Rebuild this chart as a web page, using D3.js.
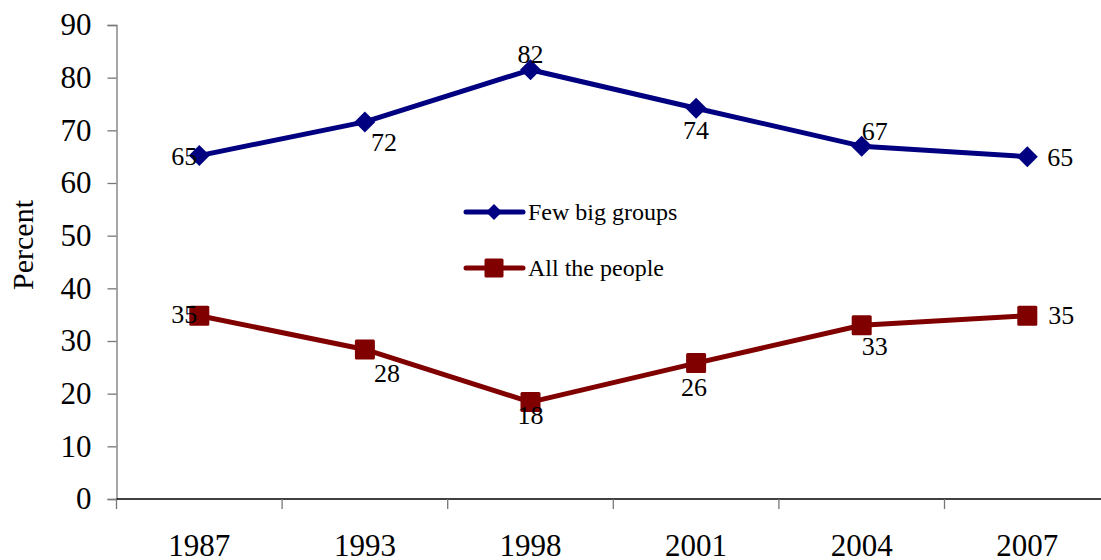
<!DOCTYPE html>
<html>
<head>
<meta charset="utf-8">
<script src="https://cdn.jsdelivr.net/npm/d3@7"></script>
<style>
  html, body { margin: 0; padding: 0; background: #fff; }
  svg { display: block; font-family: "Liberation Serif", "Times New Roman", serif; }
</style>
</head>
<body>
<svg id="chart" width="1101" height="560"></svg>
<script>
const years = ["1987", "1993", "1998", "2001", "2004", "2007"];
const fewBigGroups = [65.2, 71.6, 81.5, 74.2, 67, 65];
const allThePeople = [34.8, 28.4, 18.4, 25.8, 33, 34.8];
const yTicks = [0, 10, 20, 30, 40, 50, 60, 70, 80, 90];
const seriesNames = ["Few big groups", "All the people"];

const svg = d3.select("#chart");
const x0 = 116.5, bandW = 165.6;
const x = d3.scaleBand().domain(years).range([x0, x0 + bandW * years.length]).padding(0);
const y = d3.scaleLinear().domain([0, 90]).range([499, 25]);
const cx = d => x(d) + x.bandwidth() / 2;

// Y axis
const yAxis = svg.append("g").attr("transform", `translate(${x0},0)`)
  .call(d3.axisLeft(y).tickValues(yTicks).tickSize(9).tickPadding(16).tickFormat(d3.format("d")));
yAxis.select(".domain").attr("stroke", "#777").attr("stroke-width", 1.3);
yAxis.selectAll(".tick line").attr("stroke", "#777").attr("stroke-width", 1.3);
yAxis.selectAll(".tick text").attr("font-size", 31).attr("fill", "#000")
  .attr("font-family", "Liberation Serif, Times New Roman, serif");

// X axis line
svg.append("line").attr("x1", x0).attr("x2", 1101).attr("y1", y(0)).attr("y2", y(0))
  .attr("stroke", "#000").attr("stroke-width", 1.3);
// x tick marks at band boundaries
svg.append("g").selectAll("line").data(years).join("line")
  .attr("x1", d => x(d)).attr("x2", d => x(d))
  .attr("y1", y(0)).attr("y2", y(0) + 10)
  .attr("stroke", "#777").attr("stroke-width", 1.3);
svg.append("g").selectAll("text").data(years).join("text")
  .attr("x", d => cx(d)).attr("y", 556)
  .attr("text-anchor", "middle").attr("font-size", 31).text(d => d);

// Y label
svg.append("text").attr("transform", "translate(33,245) rotate(-90)")
  .attr("text-anchor", "middle").attr("font-size", 30).text("Percent");

const line = d3.line().x((d, i) => cx(years[i])).y(d => y(d));

const navy = "#000080", maroon = "#800000";
svg.append("path").datum(fewBigGroups).attr("d", line)
  .attr("fill", "none").attr("stroke", navy).attr("stroke-width", 5).attr("stroke-linejoin", "round");
svg.append("path").datum(allThePeople).attr("d", line)
  .attr("fill", "none").attr("stroke", maroon).attr("stroke-width", 5).attr("stroke-linejoin", "round");

const diamond = (s) => `M0,${-s}L${s},0L0,${s}L${-s},0Z`;
svg.append("g").selectAll("path").data(fewBigGroups).join("path")
  .attr("d", diamond(10.5))
  .attr("transform", (d, i) => `translate(${cx(years[i])},${y(d)})`)
  .attr("fill", navy);
svg.append("g").selectAll("rect").data(allThePeople).join("rect")
  .attr("x", (d, i) => cx(years[i]) - 10).attr("y", d => y(d) - 10)
  .attr("width", 20).attr("height", 20).attr("rx", 1.5)
  .attr("fill", maroon);

// Data labels: offsets [dx, dy(baseline relative to point), anchor]
const fewPos = [[-2, 9, "end"], [6, 29, "start"], [0, -7, "middle"], [0, 31, "middle"], [0, -6, "start"], [20, 9, "start"]];
const allPos = [[-2, 7, "end"], [9, 33, "start"], [0, 22, "middle"], [-2, 33, "middle"], [0, 30, "start"], [21, 8, "start"]];
function labels(data, pos) {
  svg.append("g").selectAll("text").data(data).join("text")
    .attr("x", (d, i) => cx(years[i]) + pos[i][0])
    .attr("y", (d, i) => y(d) + pos[i][1])
    .attr("text-anchor", (d, i) => pos[i][2])
    .attr("font-size", 26).attr("fill", "#000")
    .text(d => Math.round(d));
}
labels(fewBigGroups, fewPos);
labels(allThePeople, allPos);

// Legend
const legend = svg.append("g");
const legY = [212, 268];
seriesNames.forEach((name, i) => {
  const g = legend.append("g").attr("transform", `translate(0,${legY[i]})`);
  const col = i === 0 ? navy : maroon;
  g.append("line").attr("x1", 466).attr("x2", 523).attr("y1", 0).attr("y2", 0)
    .attr("stroke", col).attr("stroke-width", 5).attr("stroke-linecap", "round");
  if (i === 0) g.append("path").attr("d", diamond(8)).attr("transform", "translate(494,0)").attr("fill", col);
  else g.append("rect").attr("x", 484.5).attr("y", -9.5).attr("width", 19).attr("height", 19).attr("rx", 1.5).attr("fill", col);
  g.append("text").attr("x", 528).attr("y", 8).attr("font-size", 24).text(name);
});
</script>
</body>
</html>
